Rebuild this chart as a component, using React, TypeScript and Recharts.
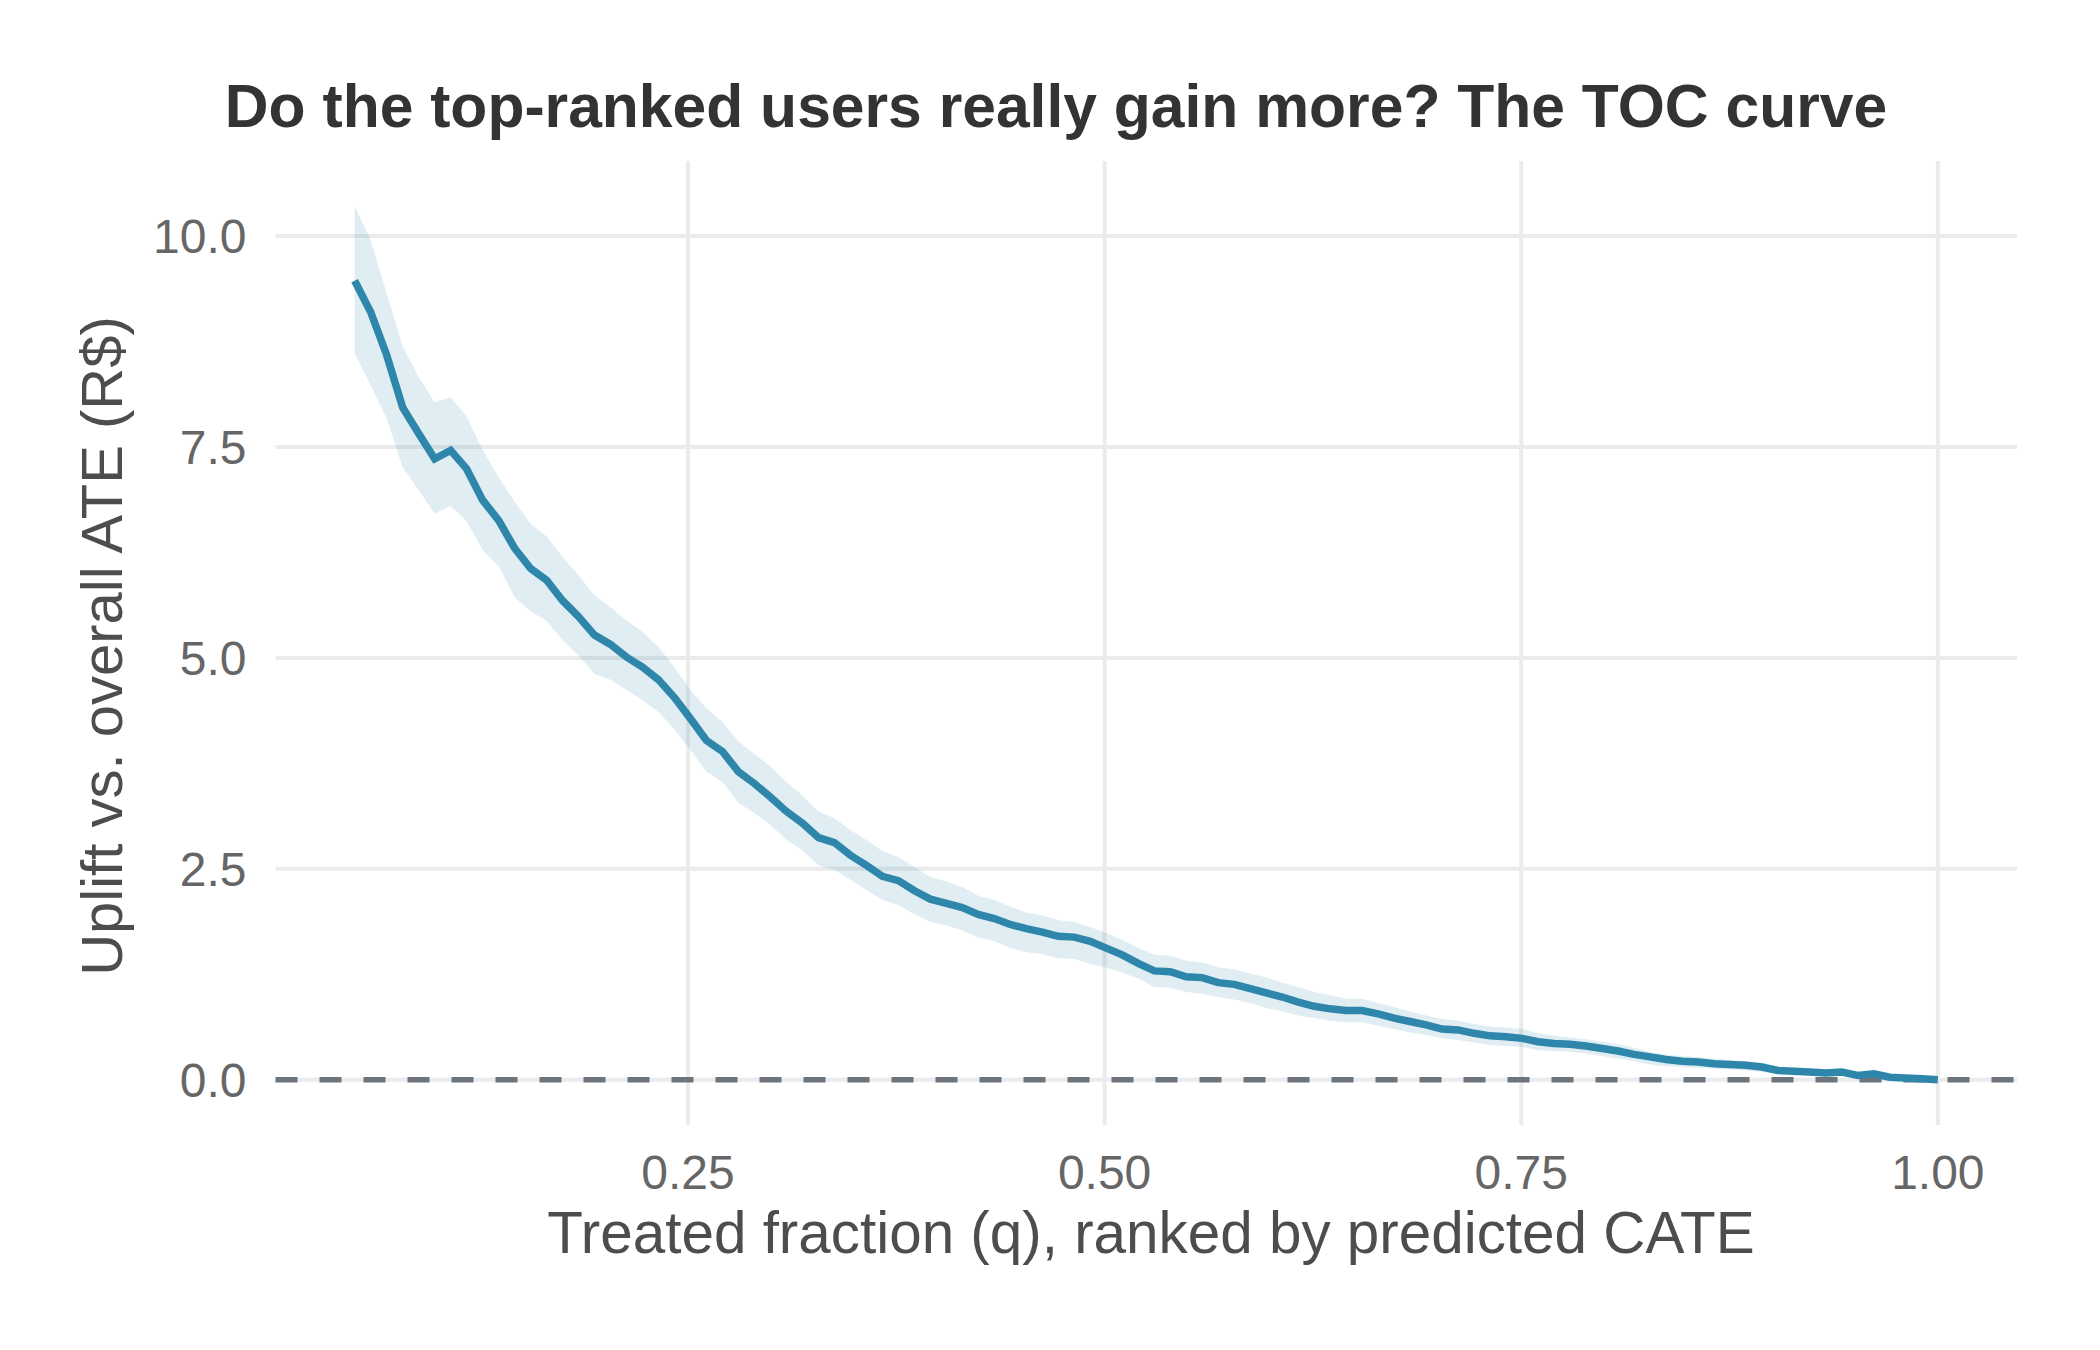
import React from "react";
import {
  ComposedChart,
  Line,
  Area,
  XAxis,
  YAxis,
  CartesianGrid,
  ReferenceLine,
} from "recharts";

const qValues = [
  0.05, 0.0596, 0.0692, 0.0788, 0.0884, 0.098, 0.1076, 0.1172, 0.1268, 0.1364,
  0.146, 0.1556, 0.1652, 0.1747, 0.1843, 0.1939, 0.2035, 0.2131, 0.2227, 0.2323,
  0.2419, 0.2515, 0.2611, 0.2707, 0.2803, 0.2899, 0.2995, 0.3091, 0.3187, 0.3283,
  0.3379, 0.3475, 0.3571, 0.3667, 0.3763, 0.3859, 0.3955, 0.4051, 0.4146, 0.4242,
  0.4338, 0.4434, 0.453, 0.4626, 0.4722, 0.4818, 0.4914, 0.501, 0.5106, 0.5202,
  0.5298, 0.5394, 0.549, 0.5586, 0.5682, 0.5778, 0.5874, 0.597, 0.6066, 0.6162,
  0.6258, 0.6354, 0.6449, 0.6545, 0.6641, 0.6737, 0.6833, 0.6929, 0.7025, 0.7121,
  0.7217, 0.7313, 0.7409, 0.7505, 0.7601, 0.7697, 0.7793, 0.7889, 0.7985, 0.8081,
  0.8177, 0.8273, 0.8369, 0.8465, 0.8561, 0.8657, 0.8753, 0.8848, 0.8944, 0.904,
  0.9136, 0.9232, 0.9328, 0.9424, 0.952, 0.9616, 0.9712, 0.9808, 0.9904, 1.0,
];

const tocValues = [
  9.47, 9.1, 8.59, 7.97, 7.66, 7.36, 7.46, 7.24, 6.87, 6.63,
  6.3, 6.06, 5.92, 5.68, 5.49, 5.27, 5.16, 5.01, 4.89, 4.74,
  4.53, 4.28, 4.02, 3.89, 3.65, 3.51, 3.35, 3.18, 3.04, 2.87,
  2.81, 2.66, 2.54, 2.41, 2.36, 2.24, 2.14, 2.09, 2.04, 1.96,
  1.91, 1.84, 1.79, 1.75, 1.7, 1.69, 1.64, 1.56, 1.48, 1.38,
  1.29, 1.28, 1.22, 1.21, 1.15, 1.13, 1.08, 1.03, 0.98, 0.92,
  0.87, 0.84, 0.82, 0.82, 0.78, 0.73, 0.69, 0.65, 0.6, 0.59,
  0.55, 0.52, 0.51, 0.49, 0.45, 0.43, 0.42, 0.4, 0.37, 0.34,
  0.3, 0.27, 0.24, 0.22, 0.21, 0.19, 0.18, 0.17, 0.15, 0.11,
  0.1, 0.09, 0.08, 0.09, 0.05, 0.07, 0.03, 0.02, 0.01, 0.0,
];

const upperValues = [
  10.36, 9.95, 9.32, 8.69, 8.33, 8.03, 8.09, 7.86, 7.46, 7.14,
  6.85, 6.59, 6.44, 6.2, 5.98, 5.74, 5.6, 5.44, 5.31, 5.13,
  4.89, 4.62, 4.4, 4.24, 4.01, 3.86, 3.71, 3.53, 3.37, 3.18,
  3.1, 2.96, 2.84, 2.71, 2.64, 2.52, 2.4, 2.35, 2.28, 2.18,
  2.13, 2.05, 1.98, 1.95, 1.89, 1.87, 1.81, 1.74, 1.66, 1.56,
  1.48, 1.47, 1.41, 1.39, 1.33, 1.31, 1.26, 1.21, 1.15, 1.1,
  1.04, 1.0, 0.96, 0.96, 0.91, 0.86, 0.81, 0.76, 0.72, 0.7,
  0.66, 0.63, 0.62, 0.6, 0.55, 0.52, 0.5, 0.48, 0.45, 0.42,
  0.38, 0.33, 0.3, 0.28, 0.27, 0.25, 0.23, 0.22, 0.2, 0.15,
  0.13, 0.12, 0.1, 0.11, 0.07, 0.08, 0.04, 0.03, 0.01, 0.0,
];

const lowerValues = [
  8.61, 8.23, 7.84, 7.26, 6.99, 6.71, 6.8, 6.62, 6.28, 6.09,
  5.72, 5.55, 5.44, 5.21, 5.03, 4.81, 4.74, 4.62, 4.5, 4.36,
  4.15, 3.91, 3.65, 3.53, 3.28, 3.16, 3.02, 2.84, 2.72, 2.54,
  2.49, 2.37, 2.25, 2.13, 2.07, 1.96, 1.87, 1.83, 1.77, 1.69,
  1.64, 1.56, 1.51, 1.49, 1.44, 1.43, 1.37, 1.33, 1.27, 1.2,
  1.1, 1.09, 1.04, 1.02, 0.98, 0.95, 0.91, 0.85, 0.81, 0.76,
  0.73, 0.7, 0.68, 0.68, 0.64, 0.6, 0.56, 0.53, 0.49, 0.47,
  0.44, 0.41, 0.4, 0.39, 0.35, 0.34, 0.33, 0.31, 0.28, 0.25,
  0.22, 0.18, 0.16, 0.15, 0.14, 0.13, 0.12, 0.11, 0.09, 0.07,
  0.06, 0.06, 0.05, 0.06, 0.03, 0.05, 0.02, 0.01, -0.01, -0.02,
];

const xTicks = [0.25, 0.5, 0.75, 1.0];
const yTicks = [0, 2.5, 5, 7.5, 10];
const xDomain: [number, number] = [0.0025, 1.0475];
const yDomain: [number, number] = [-0.537, 10.89];

const titleText = "Do the top-ranked users really gain more? The TOC curve";
const xTitle = "Treated fraction (q), ranked by predicted CATE";
const yTitle = "Uplift vs. overall ATE (R$)";

const rows = qValues.map((q, i) => ({
  q,
  toc: tocValues[i],
  band: [lowerValues[i], upperValues[i]],
}));

const FONT = '"Liberation Sans", Arial, Helvetica, sans-serif';
const LINE_COLOR = "#2E86AB";

const vGen = (props: any) => {
  const s = props?.xAxis?.scale;
  if (typeof s === "function") return xTicks.map((t) => s(t));
  if (s && typeof s.map === "function") return xTicks.map((t) => s.map(t));
  const o = props?.offset;
  return xTicks.map(
    (t) => o.left + ((t - xDomain[0]) / (xDomain[1] - xDomain[0])) * o.width
  );
};
const hGen = (props: any) => {
  const s = props?.yAxis?.scale;
  if (typeof s === "function") return yTicks.map((t) => s(t));
  if (s && typeof s.map === "function") return yTicks.map((t) => s.map(t));
  const o = props?.offset;
  return yTicks.map(
    (t) => o.top + ((yDomain[1] - t) / (yDomain[1] - yDomain[0])) * o.height
  );
};

export default function App() {
  return (
    <div
      style={{
        position: "absolute",
        left: 0,
        top: 0,
        width: 2100,
        height: 1350,
        background: "#ffffff",
        fontFamily: FONT,
      }}
    >
      <ComposedChart
        width={2100}
        height={1350}
        data={rows}
        margin={{ top: 161, right: 83, bottom: 0, left: 0 }}
      >
        <CartesianGrid
          stroke="#EBEBEB"
          strokeWidth={4}
          verticalCoordinatesGenerator={vGen}
          horizontalCoordinatesGenerator={hGen}
        />
        <XAxis
          type="number"
          dataKey="q"
          domain={xDomain}
          allowDataOverflow
          ticks={xTicks}
          tickFormatter={(v: number) => v.toFixed(2)}
          axisLine={false}
          tickLine={false}
          tickSize={0}
          tickMargin={30}
          height={225}
          tick={{ fill: "#666666", fontSize: 48, fontFamily: FONT }}
        />
        <YAxis
          type="number"
          domain={yDomain}
          allowDataOverflow
          ticks={yTicks}
          tickFormatter={(v: number) => v.toFixed(1)}
          axisLine={false}
          tickLine={false}
          tickSize={0}
          tickMargin={29}
          width={275.5}
          tick={{ fill: "#666666", fontSize: 48, fontFamily: FONT }}
        />
        <Area
          type="linear"
          dataKey="band"
          stroke="none"
          fill={LINE_COLOR}
          fillOpacity={0.15}
          isAnimationActive={false}
          activeDot={false}
        />
        <ReferenceLine
          y={0}
          stroke="#6C757D"
          strokeWidth={5.5}
          strokeDasharray="22 22"
        />
        <Line
          type="linear"
          dataKey="toc"
          stroke={LINE_COLOR}
          strokeWidth={7.5}
          dot={false}
          activeDot={false}
          isAnimationActive={false}
        />
      </ComposedChart>
      <svg
        width={2100}
        height={1350}
        style={{ position: "absolute", left: 0, top: 0, pointerEvents: "none" }}
      >
        <text
          x={1056}
          y={127}
          textAnchor="middle"
          fontFamily={FONT}
          fontWeight="bold"
          fontSize={60.6}
          fill="#333333"
        >
          {titleText}
        </text>
        <text
          x={1151}
          y={1253}
          textAnchor="middle"
          fontFamily={FONT}
          fontSize={58.4}
          fill="#4D4D4D"
        >
          {xTitle}
        </text>
        <text
          x={122}
          y={646}
          textAnchor="middle"
          fontFamily={FONT}
          fontSize={58}
          fill="#4D4D4D"
          transform="rotate(-90, 122, 646)"
        >
          {yTitle}
        </text>
      </svg>
    </div>
  );
}
